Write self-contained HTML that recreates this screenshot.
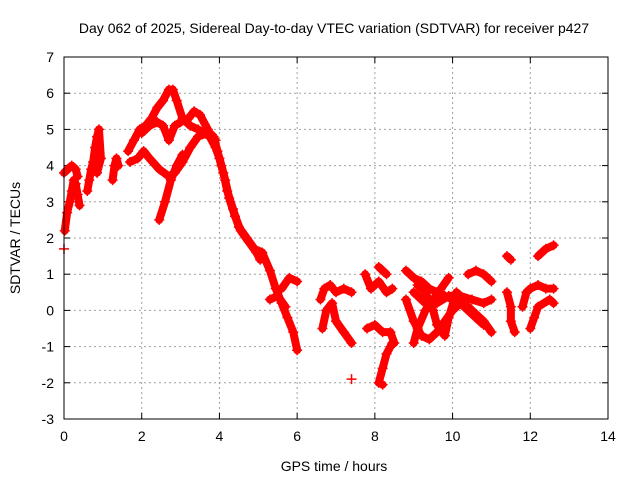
<!DOCTYPE html>
<html><head><meta charset="utf-8"><style>
body{margin:0;background:#fff}
svg text{font-family:"Liberation Sans",sans-serif;font-size:14px;fill:#000}
</style></head><body>
<svg id="chart" width="640" height="480" viewBox="0 0 640 480" xmlns="http://www.w3.org/2000/svg">
<rect width="640" height="480" fill="#fff"/>
<text x="334" y="33" text-anchor="middle">Day 062 of 2025, Sidereal Day-to-day VTEC variation (SDTVAR) for receiver p427</text>
<g id="grid"></g>
<g id="axes"></g>
<g id="marks"></g>
<rect x="64" y="57" width="544" height="362" fill="none" stroke="#000" stroke-width="1"/>
<text x="334" y="471" text-anchor="middle">GPS time / hours</text>
<text transform="translate(20,238) rotate(-90)" text-anchor="middle">SDTVAR / TECUs</text>
</svg>
<script>
const xTicks=[0,2,4,6,8,10,12,14];
const yTicks=[-3,-2,-1,0,1,2,3,4,5,6,7];
const trackA1=[[0.0,1.7]];
const trackA2=[[0.02,2.2],[0.08,2.7],[0.15,3.0],[0.2,3.3],[0.25,3.6],[0.3,3.5],[0.35,3.2],[0.4,2.9]];
const trackA3=[[0.0,3.8],[0.1,3.9],[0.2,4.0],[0.3,3.9],[0.35,3.7]];
const trackB=[[0.6,3.3],[0.65,3.6],[0.7,3.9],[0.75,4.1],[0.8,4.5],[0.85,4.8],[0.9,5.0],[0.95,4.2],[0.85,3.8]];
const trackC=[[1.25,3.6],[1.3,4.0],[1.35,4.2],[1.4,4.0]];
const trackD=[[1.65,4.4],[1.8,4.7],[1.95,5.0],[2.1,5.1],[2.25,5.3],[2.4,5.6],[2.55,5.8],[2.7,6.1],[2.8,6.1],[2.9,5.8],[3.05,5.3],[3.25,5.1],[3.45,5.0],[3.6,4.9],[3.75,4.8],[3.9,4.5],[4.0,4.2],[4.1,3.8],[4.2,3.3],[4.35,2.8],[4.5,2.3],[4.7,2.0],[4.9,1.7],[5.1,1.6]];
const trackD3=[[3.7,4.95],[3.85,4.8],[3.95,4.4],[4.05,4.0],[4.15,3.6],[4.25,3.1],[4.4,2.6],[4.55,2.2],[4.75,1.9],[4.95,1.6],[5.05,1.4]];
const trackD2=[[2.0,4.9],[2.2,5.1],[2.4,5.2],[2.55,5.1],[2.7,4.7],[2.85,5.1],[3.0,5.2],[3.2,5.3],[3.35,5.5],[3.5,5.4],[3.7,5.0]];
const trackE=[[1.7,4.1],[1.9,4.2],[2.05,4.4],[2.2,4.2],[2.45,3.9],[2.7,3.7],[2.85,3.8],[3.05,4.1],[3.25,4.5],[3.45,4.8],[3.7,4.9],[3.9,4.7]];
const trackF=[[2.45,2.5],[2.6,3.0],[2.75,3.6],[2.9,4.0],[3.05,4.3]];
const trackG=[[5.1,1.6],[5.3,1.1],[5.45,0.6],[5.6,0.2],[5.75,-0.2],[5.9,-0.6],[6.0,-1.1]];
const trackG2=[[5.6,0.6],[5.8,0.9],[6.0,0.8]];
const trackG3=[[5.3,0.3],[5.5,0.4],[5.7,0.1]];
const trackH1=[[6.6,0.3],[6.7,0.6],[6.85,0.7],[7.0,0.5],[7.2,0.6],[7.4,0.5]];
const trackH2=[[6.65,-0.5],[6.75,0.0],[6.9,0.2],[7.0,-0.3],[7.2,-0.6],[7.4,-0.9]];
const trackH3=[[7.4,-1.9]];
const trackI1=[[7.75,1.0],[7.9,0.6],[8.1,0.8],[8.3,0.5],[8.45,0.6]];
const trackI2=[[7.8,-0.5],[8.0,-0.4],[8.2,-0.6],[8.4,-0.6],[8.5,-0.9]];
const trackI3=[[8.45,-0.9],[8.3,-1.2],[8.2,-1.6],[8.1,-2.0],[8.2,-2.05]];
const trackI4=[[8.1,1.2],[8.3,1.0]];
const trackJ1=[[8.8,1.1],[9.0,0.9],[9.2,0.8],[9.4,0.6],[9.6,0.5],[9.8,0.4],[10.0,0.3],[10.2,0.2],[10.4,0.1],[10.6,-0.1],[10.8,-0.3],[11.0,-0.6]];
const trackJ2=[[8.8,0.3],[9.0,-0.3],[9.2,-0.7],[9.4,-0.8],[9.6,-0.6],[9.8,-0.3],[10.0,0.0],[10.2,0.2],[10.4,0.0],[10.6,-0.2],[10.8,-0.4]];
const trackJ3=[[9.0,0.5],[9.3,0.2],[9.6,0.2],[9.9,0.4],[10.2,0.4],[10.5,0.3],[10.8,0.2],[11.0,0.3]];
const trackJ4=[[10.4,1.0],[10.6,1.1],[10.8,1.0],[11.0,0.8]];
const trackJ5=[[9.1,0.7],[9.3,0.5],[9.5,0.0],[9.6,-0.4],[9.8,-0.7],[9.9,-0.2],[10.1,0.5],[10.3,0.3]];
const trackJ6=[[9.0,-0.9],[9.1,-0.5],[9.3,0.0],[9.5,0.3],[9.7,0.6],[9.9,0.9]];
const trackK1=[[11.4,1.5],[11.5,1.4]];
const trackK2=[[11.4,0.5],[11.5,0.1],[11.5,-0.3],[11.6,-0.6]];
const trackK3=[[11.8,0.1],[11.9,0.5],[12.0,0.6],[12.2,0.7],[12.4,0.6],[12.6,0.6]];
const trackK4=[[12.0,-0.5],[12.1,-0.2],[12.2,0.1],[12.5,0.3],[12.6,0.2]];
const trackK5=[[12.2,1.5],[12.4,1.7],[12.6,1.8]];
const tracks=[trackA1,trackA2,trackA3,trackB,trackC,trackD,trackD3,trackD2,trackE,trackF,trackG,trackG2,trackG3,trackH1,trackH2,trackH3,trackI1,trackI2,trackI3,trackI4,trackJ1,trackJ2,trackJ3,trackJ4,trackJ5,trackJ6,trackK1,trackK2,trackK3,trackK4,trackK5];

const X0=64,X1=608,Y0=419,Y1=57,xmin=0,xmax=14,ymin=-3,ymax=7;
const xs=t=>X0+(t-xmin)/(xmax-xmin)*(X1-X0);
const ys=v=>Y0-(v-ymin)/(ymax-ymin)*(Y0-Y1);
const NS='http://www.w3.org/2000/svg';
function mk(tag,attrs,parent){const e=document.createElementNS(NS,tag);for(const k in attrs)e.setAttribute(k,attrs[k]);parent.appendChild(e);return e;}
const grid=document.getElementById('grid'),axes=document.getElementById('axes'),marks=document.getElementById('marks');
xTicks.forEach(t=>{
  const x=xs(t);
  if(t>xmin&&t<xmax){const l=mk('line',{x1:x,y1:Y1,x2:x,y2:Y0,stroke:'#a0a0a0','stroke-dasharray':'2,3'},grid);
  
  }
  mk('line',{x1:x,y1:Y0,x2:x,y2:Y0-6,stroke:'#000'},axes);
  mk('line',{x1:x,y1:Y1,x2:x,y2:Y1+6,stroke:'#000'},axes);
  const tx=mk('text',{x:x,y:Y0+22,'text-anchor':'middle'},axes);tx.textContent=t;
  
  
});
yTicks.forEach(v=>{
  const y=ys(v);
  if(v>ymin&&v<ymax){const l=mk('line',{x1:X0,y1:y,x2:X1,y2:y,stroke:'#a0a0a0','stroke-dasharray':'2,3'},grid);
  
  }
  mk('line',{x1:X0,y1:y,x2:X0+6,y2:y,stroke:'#000'},axes);
  mk('line',{x1:X1,y1:y,x2:X1-6,y2:y,stroke:'#000'},axes);
  const tx=mk('text',{x:X0-10,y:y+5,'text-anchor':'end'},axes);tx.textContent=v;
  
  
});
tracks.forEach(tr=>{
  if(tr.length>1){const pl=mk('polyline',{points:tr.map(p=>xs(p[0])+','+ys(p[1])).join(' '),fill:'none',stroke:'#f00','stroke-width':8,'stroke-linejoin':'round','stroke-linecap':'round'},marks);
  
  }
  tr.forEach(p=>{
    const x=xs(p[0]),y=ys(p[1]);
    const m=mk('path',{d:`M${x-5},${y}H${x+5}M${x},${y-5}V${y+5}`,stroke:'#f00','stroke-width':1.5},marks);
    
    
  });
});
</script>
</body></html>
